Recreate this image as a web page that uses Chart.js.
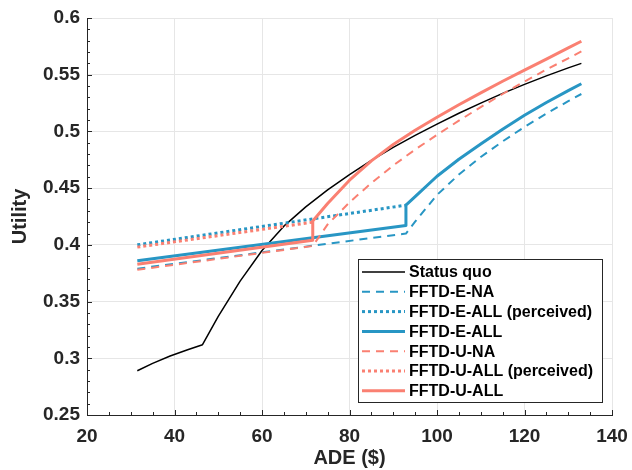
<!DOCTYPE html>
<html lang="en">
<head>
    <meta charset="UTF-8">
    <title>Utility vs ADE</title>
    <script src="https://cdn.jsdelivr.net/npm/chart.js"></script>
    <style>
        body {
            margin: 0;
            background: #fff;
        }
        #wrap {
            position: relative;
            width: 632px;
            height: 470px;
        }
    </style>
</head>
<body>
<div id="wrap"><canvas id="utilChart" width="632" height="470"></canvas></div>
<script>
    // Values
    const statusX = [31.5, 35, 39, 43, 46.4, 50, 55, 60, 65, 70, 75, 80, 85, 90, 95, 100, 105, 110, 115, 120, 125, 130, 133];
    const statusY = [0.289, 0.2955, 0.302, 0.3075, 0.312, 0.337, 0.368, 0.395, 0.4165, 0.4335, 0.4485, 0.462, 0.4745, 0.486, 0.4965, 0.5065, 0.516, 0.525, 0.5335, 0.5415, 0.549, 0.556, 0.560];

    const eNaX = [31.5, 92.9, 95, 100, 105, 110, 115, 120, 125, 130, 133];
    const eNaY = [0.379, 0.410, 0.4205, 0.444, 0.462, 0.4775, 0.4912, 0.504, 0.5157, 0.5267, 0.533];

    const eAllPercX = [31.5, 92.9];
    const eAllPercY = [0.400, 0.435];

    const eAllX = [31.5, 92.9, 92.9, 95, 100, 105, 110, 115, 120, 125, 130, 133];
    const eAllY = [0.386, 0.417, 0.435, 0.4425, 0.4605, 0.4755, 0.489, 0.502, 0.5143, 0.5255, 0.536, 0.542];

    const uNaX = [31.5, 71.6, 75, 80, 85, 90, 95, 100, 105, 110, 115, 120, 125, 130, 133];
    const uNaY = [0.378, 0.399, 0.418, 0.4375, 0.4545, 0.470, 0.484, 0.497, 0.5095, 0.5215, 0.533, 0.544, 0.5545, 0.5645, 0.5705];

    const uAllPercX = [31.5, 71.6];
    const uAllPercY = [0.398, 0.420];

    const uAllX = [31.5, 71.6, 71.6, 75, 80, 85, 90, 95, 100, 105, 110, 115, 120, 125, 130, 133];
    const uAllY = [0.383, 0.404, 0.421, 0.4365, 0.457, 0.474, 0.4885, 0.501, 0.5125, 0.5235, 0.534, 0.5442, 0.554, 0.5638, 0.5736, 0.5795];

    const seriesNames = ['Status quo', 'FFTD-E-NA', 'FFTD-E-ALL (perceived)', 'FFTD-E-ALL',
                         'FFTD-U-NA', 'FFTD-U-ALL (perceived)', 'FFTD-U-ALL'];

    const xTicks = [20, 40, 60, 80, 100, 120, 140];
    const yTicks = [0.25, 0.3, 0.35, 0.4, 0.45, 0.5, 0.55, 0.6];

    const BLUE = 'rgb(40, 150, 196)';
    const SALMON = 'rgb(250, 128, 114)';
    const INK = '#262626';
    const FONT = '"Liberation Sans", Arial, sans-serif';

    function pts(xs, ys) {
        return xs.map((x, i) => ({ x: x, y: ys[i] }));
    }

    function line(name, xs, ys, color, width, dash, idx) {
        return {
            label: name,
            data: pts(xs, ys),
            borderColor: color,
            borderWidth: width,
            borderDash: dash,
            borderCapStyle: 'butt',
            borderJoinStyle: 'round',
            pointRadius: 0,
            fill: false,
            tension: 0,
            order: 10 - idx
        };
    }

    const datasets = [
        line(seriesNames[0], statusX, statusY, '#000', 1.5, [], 0),
        line(seriesNames[1], eNaX, eNaY, BLUE, 2, [8, 6], 1),
        line(seriesNames[2], eAllPercX, eAllPercY, BLUE, 3, [3, 3], 2),
        line(seriesNames[3], eAllX, eAllY, BLUE, 3, [], 3),
        line(seriesNames[4], uNaX, uNaY, SALMON, 2, [8, 6], 4),
        line(seriesNames[5], uAllPercX, uAllPercY, SALMON, 3, [3, 3], 5),
        line(seriesNames[6], uAllX, uAllY, SALMON, 3, [], 6)
    ];

    // inward major + minor ticks, and the boxed legend in the lower right
    const extras = {
        id: 'extras',
        afterDraw(chart) {
            const ctx = chart.ctx;
            const a = chart.chartArea;
            const xs = chart.scales.x, ys = chart.scales.y;
            ctx.save();
            ctx.strokeStyle = INK;
            ctx.lineWidth = 1;
            ctx.beginPath();
            for (let v = 20; v <= 140; v += 5) {
                const px = Math.round(xs.getPixelForValue(v)) + 0.5;
                const len = (v % 20 === 0) ? 5 : 3;
                ctx.moveTo(px, a.bottom);
                ctx.lineTo(px, a.bottom - len);
            }
            for (let k = 25; k <= 60; k++) {
                const py = Math.round(ys.getPixelForValue(k / 100)) + 0.5;
                const len = (k % 5 === 0) ? 5 : 3;
                ctx.moveTo(a.left, py);
                ctx.lineTo(a.left + len, py);
            }
            ctx.stroke();

            // legend
            const bw = 244, bh = 143;
            const bx = a.right - 10 - bw;
            const by = a.bottom - 13 - bh;
            ctx.fillStyle = '#fff';
            ctx.fillRect(bx, by, bw, bh);
            ctx.strokeStyle = '#262626';
            ctx.strokeRect(bx + 0.5, by + 0.5, bw, bh);
            ctx.font = 'bold 16px ' + FONT;
            ctx.textBaseline = 'middle';
            chart.data.datasets.forEach((ds, i) => {
                const cy = by + 13 + i * 19.8;
                ctx.beginPath();
                ctx.strokeStyle = ds.borderColor;
                ctx.lineWidth = ds.borderWidth;
                ctx.setLineDash(ds.borderDash);
                ctx.moveTo(bx + 4, cy);
                ctx.lineTo(bx + 47, cy);
                ctx.stroke();
                ctx.setLineDash([]);
                ctx.fillStyle = '#000';
                ctx.fillText(ds.label, bx + 51, cy + 1);
            });
            ctx.restore();
        }
    };

    const ctx = document.getElementById('utilChart').getContext('2d');
    const utilChart = new Chart(ctx, {
        type: 'line',
        data: { datasets: datasets },
        plugins: [extras],
        options: {
            responsive: false,
            animation: false,
            layout: { padding: { top: 18, right: 20, left: 0, bottom: 0 } },
            plugins: {
                legend: { display: false },
                tooltip: { enabled: false }
            },
            scales: {
                x: {
                    type: 'linear',
                    min: 20,
                    max: 140,
                    afterBuildTicks: s => { s.ticks = xTicks.map(v => ({ value: v })); },
                    afterFit: s => { s.height = 55; s.paddingLeft = 0; s.paddingRight = 0; },
                    grid: { color: '#e6e6e6', drawTicks: false },
                    border: { display: true, color: INK },
                    ticks: {
                        padding: 10,
                        color: INK,
                        font: { family: FONT, size: 19, weight: 'bold' },
                        maxRotation: 0
                    },
                    title: {
                        display: true,
                        text: 'ADE ($)',
                        color: INK,
                        padding: { top: 0, bottom: 0 },
                        font: { family: FONT, size: 20, weight: 'bold' }
                    }
                },
                y: {
                    type: 'linear',
                    min: 0.25,
                    max: 0.6,
                    afterBuildTicks: s => { s.ticks = yTicks.map(v => ({ value: v })); },
                    afterFit: s => { s.width = 87; s.paddingTop = 0; s.paddingBottom = 0; },
                    grid: { color: '#e6e6e6', drawTicks: false },
                    border: { display: true, color: INK },
                    ticks: {
                        padding: 7,
                        color: INK,
                        font: { family: FONT, size: 19, weight: 'bold' },
                        callback: v => String(+v.toFixed(2))
                    },
                    title: {
                        display: true,
                        text: 'Utility',
                        color: INK,
                        padding: { top: 8, bottom: 0 },
                        font: { family: FONT, size: 20, weight: 'bold' }
                    }
                }
            }
        }
    });
</script>
</body>
</html>
